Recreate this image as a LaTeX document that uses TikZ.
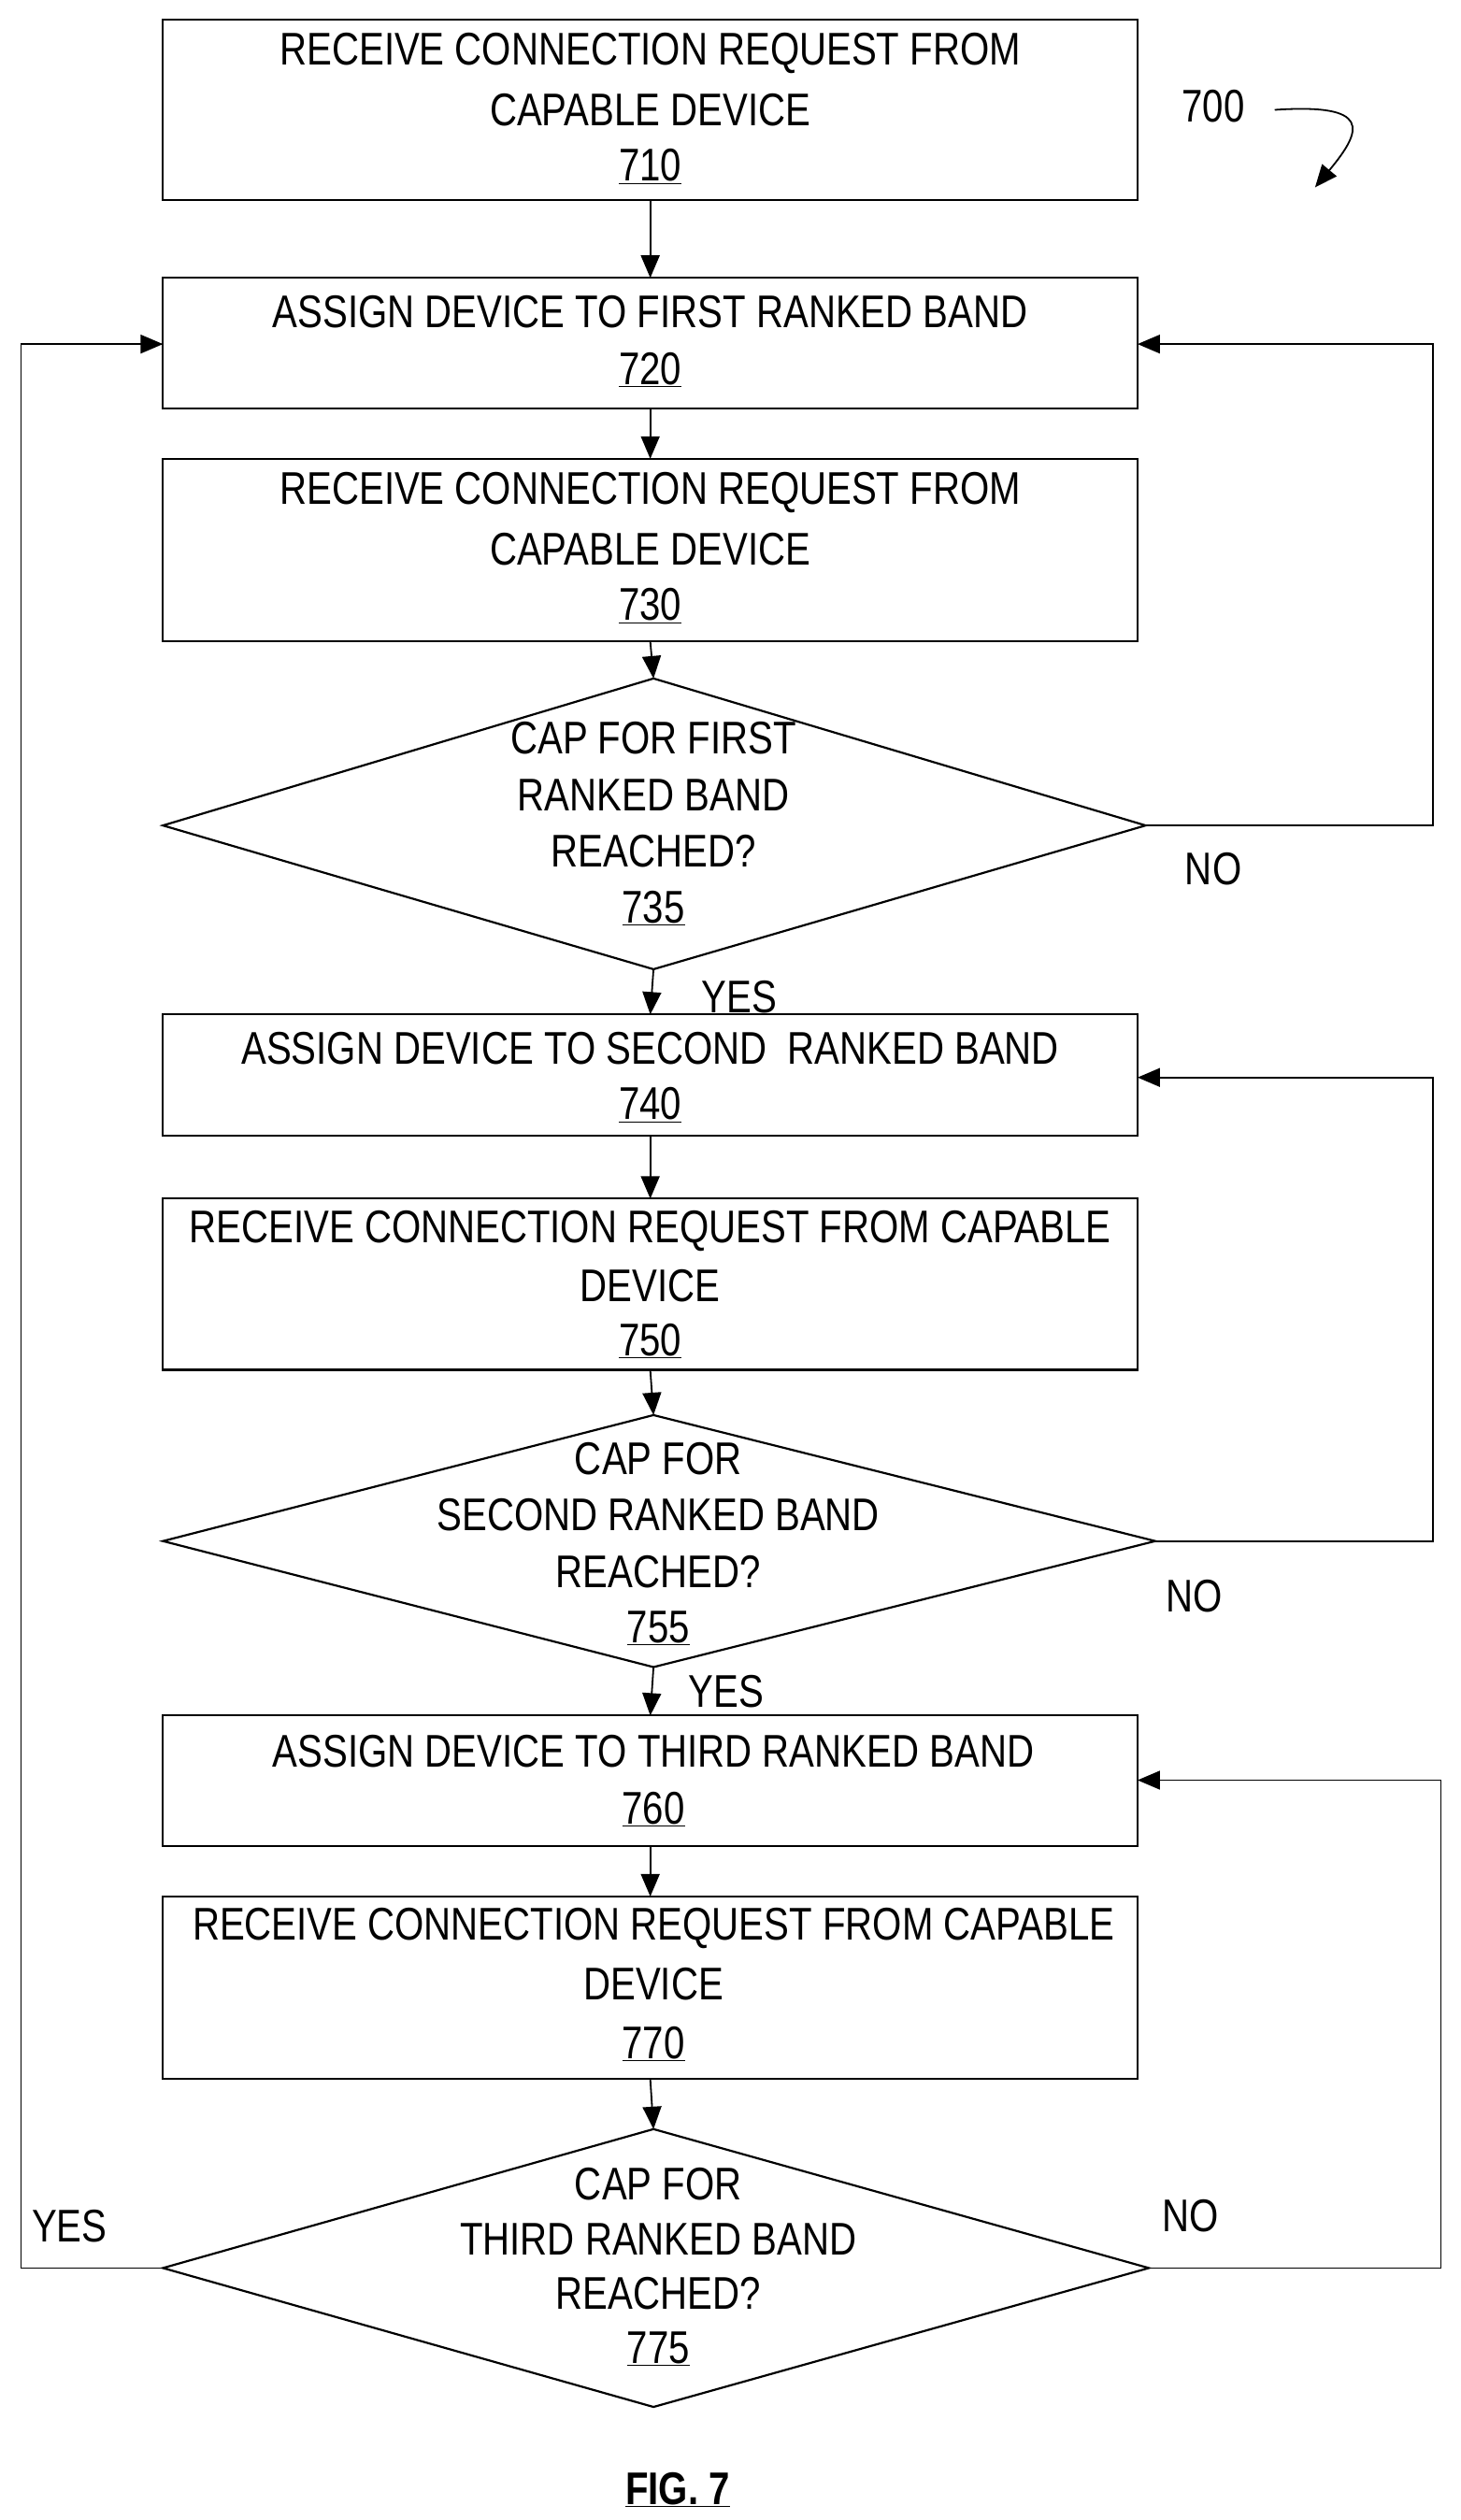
\documentclass[tikz,border=0pt]{standalone}
\usepackage{fontspec}
\setmainfont{Liberation Sans}[FakeStretch=0.82]
\usetikzlibrary{arrows.meta}
\begin{document}
\begin{tikzpicture}[x=1.726pt,y=-1.728pt,
  box/.style={draw,line width=2.2pt},
  lab/.style={font=\fontsize{49}{49}\selectfont,inner sep=0},
  ln/.style={draw,line width=1.8pt},
  arr/.style={ln,-{Triangle[length=24pt,width=20pt]}}]
\useasboundingbox (0,0) rectangle (905,1560);
% boxes
\draw[box] (101,12) rectangle (705,124); \coordinate (b710t) at (403,124);
\node[lab] at (403,33) {RECEIVE CONNECTION REQUEST FROM};
\node[lab] at (403,68) {CAPABLE DEVICE};
\node[lab] (n710) at (403,103) {\underline{710}};
\draw[box] (101,172) rectangle (705,253);
\coordinate (b720t) at (403,172); \coordinate (b720b) at (403,253);
\coordinate (b720l) at (101,213); \coordinate (b720r) at (705,213);
\node[lab] at (403,193) {ASSIGN DEVICE TO FIRST RANKED BAND};
\node[lab] at (403,229) {\underline{720}};
\draw[box] (101,284) rectangle (705,397);
\coordinate (b730t) at (403,284); \coordinate (b730b) at (403,397);
\node[lab] at (403,305) {RECEIVE CONNECTION REQUEST FROM};
\node[lab] at (403,340) {CAPABLE DEVICE};
\node[lab] at (403,375) {\underline{730}};
\draw[box] (405,420) coordinate (d735t) -- (710,511) coordinate (d735r) -- (405,600) coordinate (d735b) -- (101,511) -- cycle;
\node[lab] at (405,457) {CAP FOR FIRST};
\node[lab] at (405,492) {RANKED BAND};
\node[lab] at (405,527) {REACHED?};
\node[lab] at (405,562) {\underline{735}};
\draw[box] (101,628) rectangle (705,703);
\coordinate (b740t) at (403,628); \coordinate (b740b) at (403,703); \coordinate (b740r) at (705,667);
\node[lab] at (403,649) {ASSIGN DEVICE TO SECOND\ \ RANKED BAND};
\node[lab] at (403,684) {\underline{740}};
\draw[box] (101,742) rectangle (705,848);
\coordinate (b750t) at (403,742); \coordinate (b750b) at (403,848);
\node[lab] at (403,762) {RECEIVE CONNECTION REQUEST FROM CAPABLE};
\node[lab] at (403,796) {DEVICE};
\node[lab] at (403,830) {\underline{750}};
\draw[box] (405,876) coordinate (d755t) -- (716,954) coordinate (d755r) -- (405,1032) coordinate (d755b) -- (101,954) -- cycle;
\node[lab] at (408,903) {CAP FOR};
\node[lab] at (408,938) {SECOND RANKED BAND};
\node[lab] at (408,973) {REACHED?};
\node[lab] at (408,1008) {\underline{755}};
\draw[box] (101,1062) rectangle (705,1143);
\coordinate (b760t) at (403,1062); \coordinate (b760b) at (403,1143); \coordinate (b760r) at (705,1102);
\node[lab] at (405,1084) {ASSIGN DEVICE TO THIRD RANKED BAND};
\node[lab] at (405,1120) {\underline{760}};
\draw[box] (101,1174) rectangle (705,1287);
\coordinate (b770t) at (403,1174); \coordinate (b770b) at (403,1287);
\node[lab] at (405,1194) {RECEIVE CONNECTION REQUEST FROM CAPABLE};
\node[lab] at (405,1228) {DEVICE};
\node[lab] at (405,1265) {\underline{770}};
\draw[box] (405,1318) coordinate (d775t) -- (712,1404) coordinate (d775r) -- (405,1490) -- (101,1404) coordinate (d775l) -- cycle;
\node[lab] at (408,1352) {CAP FOR};
\node[lab] at (408,1386) {THIRD RANKED BAND};
\node[lab] at (408,1420) {REACHED?};
\node[lab] at (408,1454) {\underline{775}};
% arrows
\draw[arr] (b710t) -- (b720t);
\draw[arr] (b720b) -- (b730t);
\draw[arr] (b730b) -- (d735t);
\draw[arr] (d735b) -- (b740t);
\draw[arr] (b740b) -- (b750t);
\draw[arr] (b750b) -- (d755t);
\draw[arr] (d755b) -- (b760t);
\draw[arr] (b760b) -- (b770t);
\draw[arr] (b770b) -- (d775t);
\draw[arr] (d735r) -- (888,511) -- (888,213) -- (b720r);
\draw[arr] (d755r) -- (888,954) -- (888,667) -- (b740r);
\draw[arr] (d775r) -- (893,1404) -- (893,1102) -- (b760r);
\draw[arr] (d775l) -- (13,1404) -- (13,213) -- (b720l);
\node[lab] at (752,538) {NO};
\node[lab] at (740,988) {NO};
\node[lab] at (738,1372) {NO};
\node[lab] at (458,617) {YES};
\node[lab] at (450,1047) {YES};
\node[lab] at (43,1378) {YES};
\node[lab] (n700) at (752,66) {700};
\draw[arr] (790,68) .. controls (850,64) and (845,80) .. (815,116);
\node[lab,font=\fontsize{49}{49}\selectfont\bfseries] at (420,1541) {\underline{FIG. 7}};
\end{tikzpicture}
\end{document}
